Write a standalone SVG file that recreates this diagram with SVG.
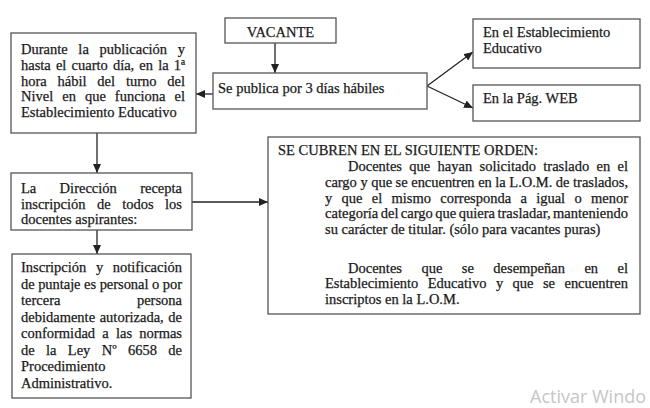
<svg xmlns="http://www.w3.org/2000/svg" width="650" height="408" viewBox="0 0 650 408">
<style>
.t{font-family:"Liberation Serif","Times New Roman",serif;font-size:14.5px;fill:#1a1a1a;stroke:#1a1a1a;stroke-width:0.25;}
.box{fill:#ffffff;stroke:#555555;stroke-width:1.3;}
.conn{stroke:#222222;stroke-width:1.3;fill:none;marker-end:url(#ah);}
.wm{font-family:"Open Sans","Noto Sans",sans-serif;font-size:18px;fill:#c6c6c6;}
</style>
<defs>
<marker id="ah" markerUnits="userSpaceOnUse" markerWidth="9" markerHeight="8" refX="9" refY="4" orient="auto">
<path d="M0,0 L9,4 L0,8 z" fill="#222222"/>
</marker>
</defs>
<rect width="650" height="408" fill="#ffffff"/>

<g id="connectors">
<line class="conn" x1="275" y1="43" x2="275" y2="73"/>
<line class="conn" x1="213" y1="94" x2="196" y2="94"/>
<line class="conn" x1="427" y1="86" x2="473" y2="52"/>
<line class="conn" x1="427" y1="86" x2="473" y2="108"/>
<line class="conn" x1="97" y1="133" x2="97" y2="173"/>
<line class="conn" x1="192" y1="202" x2="268" y2="202"/>
<line class="conn" x1="97" y1="230" x2="97" y2="254"/>
</g>

<g id="vacante">
<rect class="box" x="225" y="18" width="111" height="25"/>
<text class="t" x="280.5" y="37" text-anchor="middle">VACANTE</text>
</g>

<g id="se-publica">
<rect class="box" x="213" y="73" width="214" height="36"/>
<text class="t" x="218" y="93">Se publica por 3 días hábiles</text>
</g>

<g id="establecimiento">
<rect class="box" x="473" y="19" width="167" height="49"/>
<text class="t" x="483" y="37">En el Establecimiento</text>
<text class="t" x="483" y="53">Educativo</text>
</g>

<g id="web">
<rect class="box" x="473" y="85" width="167" height="36"/>
<text class="t" x="483" y="103">En la Pág. WEB</text>
</g>

<g id="durante">
<rect class="box" x="11" y="33" width="185" height="100"/>
<text class="t" x="21" y="54" textLength="164" lengthAdjust="spacing" style="word-spacing:7px">Durante la publicación y</text>
<text class="t" x="21" y="70" textLength="164" lengthAdjust="spacing" style="word-spacing:1.5px">hasta el cuarto día, en la 1ª</text>
<text class="t" x="21" y="85.5" textLength="164" lengthAdjust="spacing" style="word-spacing:7.2px">hora hábil del turno del</text>
<text class="t" x="21" y="101" textLength="164" lengthAdjust="spacing" style="word-spacing:5.4px">Nivel en que funciona el</text>
<text class="t" x="21" y="117">Establecimiento Educativo</text>
</g>

<g id="direccion">
<rect class="box" x="11" y="173" width="181" height="57"/>
<text class="t" x="21" y="193" textLength="161" lengthAdjust="spacing" style="word-spacing:19.7px">La Dirección recepta</text>
<text class="t" x="21" y="208.5" textLength="161" lengthAdjust="spacing" style="word-spacing:7.9px">inscripción de todos los</text>
<text class="t" x="21" y="224">docentes aspirantes:</text>
</g>

<g id="inscripcion">
<rect class="box" x="12" y="254" width="179" height="144"/>
<text class="t" x="21" y="272" textLength="161" lengthAdjust="spacing" style="word-spacing:6px">Inscripción y notificación</text>
<text class="t" x="21" y="288.5" textLength="161" lengthAdjust="spacing">de puntaje es personal o por</text>
<text class="t" x="21" y="305">tercera</text>
<text class="t" x="182" y="305" text-anchor="end">persona</text>
<text class="t" x="21" y="321.5" textLength="161" lengthAdjust="spacing" style="word-spacing:1px">debidamente autorizada, de</text>
<text class="t" x="21" y="338" textLength="161" lengthAdjust="spacing" style="word-spacing:3.6px">conformidad a las normas</text>
<text class="t" x="21" y="354.5" textLength="161" lengthAdjust="spacing" style="word-spacing:7.7px">de la Ley Nº 6658 de</text>
<text class="t" x="21" y="371">Procedimiento</text>
<text class="t" x="21" y="387.5">Administrativo.</text>
</g>

<g id="orden">
<rect class="box" x="268" y="137" width="372" height="177"/>
<text class="t" x="278" y="155">SE CUBREN EN EL SIGUIENTE ORDEN:</text>
<text class="t" x="348" y="171" textLength="280" lengthAdjust="spacing" style="word-spacing:3.7px">Docentes que hayan solicitado traslado en el</text>
<text class="t" x="325" y="187" textLength="303" lengthAdjust="spacing">cargo y que se encuentren en la L.O.M. de traslados,</text>
<text class="t" x="325" y="202.5" textLength="303" lengthAdjust="spacing" style="word-spacing:5.7px">y que el mismo corresponda a igual o menor</text>
<text class="t" x="325" y="218" textLength="303" lengthAdjust="spacing" style="word-spacing:-1.2px">categoría del cargo que quiera trasladar, manteniendo</text>
<text class="t" x="325" y="234">su carácter de titular. (sólo para vacantes puras)</text>
<text class="t" x="348" y="272.5" textLength="280" lengthAdjust="spacing" style="word-spacing:15.8px">Docentes que se desempeñan en el</text>
<text class="t" x="325" y="288" textLength="303" lengthAdjust="spacing" style="word-spacing:5.8px">Establecimiento Educativo y que se encuentren</text>
<text class="t" x="325" y="303.5">inscriptos en la L.O.M.</text>
</g>

<text class="wm" x="530" y="403">Activar Windo</text>
</svg>
